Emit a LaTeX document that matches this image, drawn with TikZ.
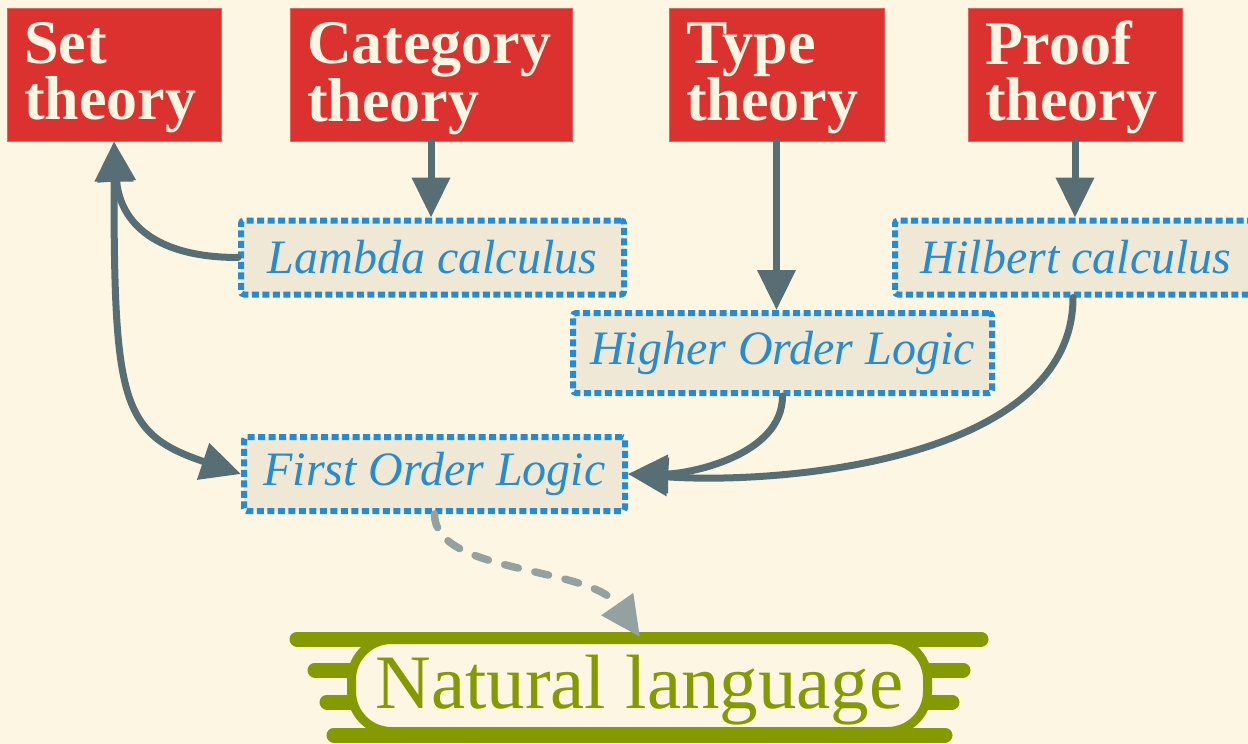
\documentclass[tikz,border=0pt]{standalone}
\usepackage{fontspec}
\setmainfont{Liberation Serif}
\usetikzlibrary{arrows.meta}
\definecolor{paper}{HTML}{FDF6E3}
\definecolor{fieldred}{HTML}{DC322F}
\definecolor{calcblue}{HTML}{268BD2}
\definecolor{calcfill}{HTML}{EEE8D5}
\definecolor{linkgray}{HTML}{586E75}
\definecolor{hintgray}{HTML}{93A1A1}
\definecolor{natolive}{HTML}{859900}

\begin{document}
\begin{tikzpicture}[x=1pt,y=-1pt,
  field/.style={fill=fieldred, draw=fieldred!75!paper, line width=1pt, text=paper, font=\fontsize{62}{56}\selectfont\bfseries, align=left, inner xsep=17pt, inner ysep=0pt, minimum height=133pt, text width=#1, text depth=63pt},
  calc/.style={fill=calcfill, draw=calcblue, line width=6pt, dash pattern=on 7pt off 3.5pt, rounded corners=3pt, text=calcblue, font=\fontsize{48}{56}\selectfont\itshape, minimum height=74pt, minimum width=#1},
  link/.style={draw=linkgray, line width=7pt, line cap=round, >={Triangle[length=40pt,width=37pt]}},
  hint/.style={draw=hintgray, line width=7.5pt, dash pattern=on 14pt off 17pt, line cap=round, >={Triangle[length=40pt,width=37pt]}},
  band/.style={draw=natolive, line width=15pt, line cap=round}]
\fill[paper] (0,0) rectangle (1248,744);
\useasboundingbox (0,0) rectangle (1248,744);

\node[field=180pt] (set) at (114,74.5) {Set\\theory};
\node[field=248pt] (cat) at (431,74.5) {Category\\theory};
\node[field=181pt] (type) at (776.5,74.5) {Type\\theory};
\node[field=180pt] (proof) at (1075,74.5) {Proof\\theory};

\node[calc=383pt] (lambda) at (432.5,257.5) {Lambda calculus};
\node[calc=362pt] (hilbert) at (1076,257.5) {Hilbert calculus};
\node[calc=419pt, minimum height=80pt] (hol) at (782.5,353) {Higher Order Logic};
\node[calc=381pt] (fol) at (434.5,474) {First Order Logic};

% natural language plaque
\draw[band] (297,639) -- (981,639);
\draw[band] (334,735) -- (945,735);
\draw[band] (315,670) -- (356,670);
\draw[band] (327,702) -- (356,702);
\draw[band] (923,670) -- (963,670);
\draw[band] (923,702) -- (952,702);
\draw[natolive, fill=paper, line width=9pt, rounded corners=40pt] (351.5,639.5) rectangle (927.5,731.5);
\node[text=natolive, font=\fontsize{77}{80}\selectfont] (nat) at (639.5,690) {Natural language};
\coordinate (nattip) at (640,637);

\draw[link,->] (cat.south) -- (cat.south |- lambda.north);
\draw[link,->] (type.south) -- (type.south |- hol.north);
\draw[link,->] (proof.south) -- (proof.south |- hilbert.north);
\draw[link,->] (lambda.west) .. controls +(-90,0) and +(5,75) .. (set.south);
\draw[link,<->] (set.south) .. controls +(0,260) and +(-120,-40) .. (fol.west);
\draw[link,->] (hol.south) .. controls +(0,60) and +(60,0) .. (fol.east);
\draw[link,->] (hilbert.south) ++(-3,0) .. controls +(0,163) and +(152,11) .. (fol.east);
\draw[hint,->] (fol.south) .. controls +(0,61) and +(-50,-72) .. (nattip);
\end{tikzpicture}
\end{document}
